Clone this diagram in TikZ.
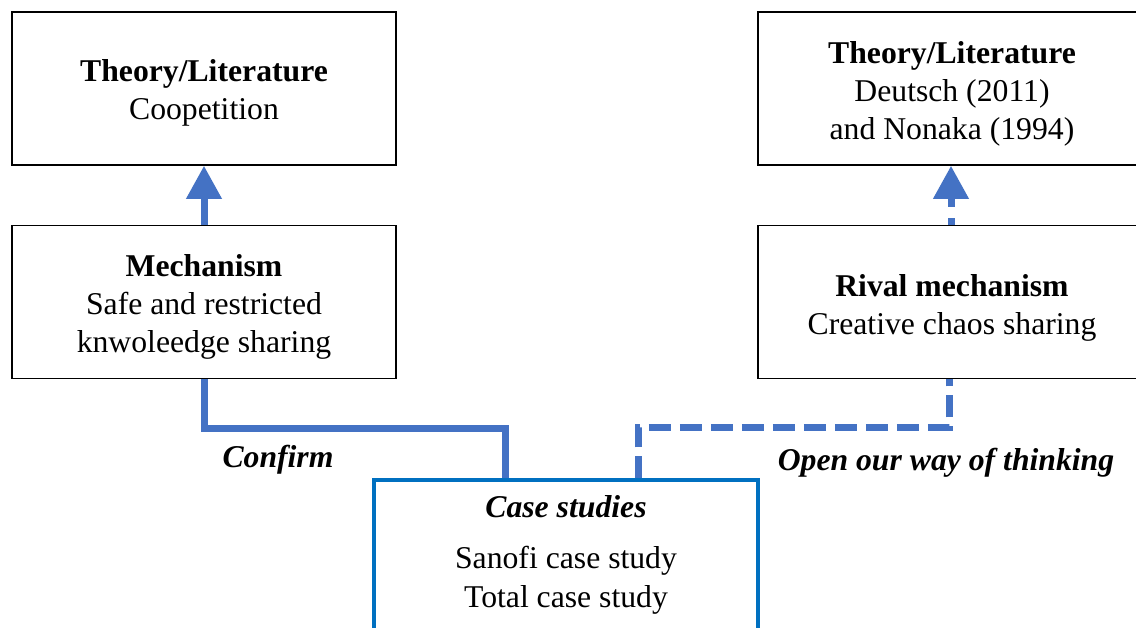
\documentclass[tikz,border=0pt]{standalone}
\usepackage{fontspec}
\setmainfont{Liberation Serif}
\usetikzlibrary{arrows.meta}
\definecolor{conn}{HTML}{4472C4}
\definecolor{casec}{HTML}{0070C0}
\begin{document}
\begin{tikzpicture}[x=1pt,y=-1pt,
  txt/.style={font=\fontsize{31.7}{38}\selectfont, align=center, inner sep=0pt},
  bx/.style={draw=black, line width=1.6pt, inner sep=0pt, minimum height=153pt},
  conline/.style={draw=conn, line width=7pt},
  condash/.style={conline, dash pattern=on 22pt off 9pt},
  bigarrow/.style={-{Triangle[width=34pt,length=33pt]}}
]
\useasboundingbox[fill=white] (0,0) rectangle (1136,627);
% boxes
\node[bx, minimum width=384pt] (theoL) at (204,88.5) {};
\node[bx, minimum width=384pt] (mech) at (204,302) {};
\node[bx, minimum width=388pt] (theoR) at (952,88.5) {};
\node[bx, minimum width=388pt] (rival) at (952,302) {};
\node[draw=casec, line width=3.5pt, minimum width=384pt, minimum height=180pt, inner sep=0pt] (case) at (566,570) {};
% box texts
\node[txt] (theoLt) at ([yshift=-4.5pt]theoL.center) {\textbf{Theory/Literature}\\Coopetition};
\node[txt] (mecht) at ([yshift=-5pt]mech.center) {\textbf{Mechanism}\\Safe and restricted\\knwoleedge sharing};
\node[txt] (theoRt) at ([yshift=-5pt]theoR.center) {\textbf{Theory/Literature}\\Deutsch (2011)\\and Nonaka (1994)};
\node[txt] (rivalt) at ([yshift=-6pt]rival.center) {\textbf{Rival mechanism}\\Creative chaos sharing};
\node[txt, anchor=base] (caseT) at (566,517) {\textbf{\itshape Case studies}};
\node[txt, anchor=base] (caseA) at (566,568) {Sanofi case study};
\node[txt, anchor=base] (caseB) at (566,607) {Total case study};
% labels
\node[txt, anchor=base] (confirm) at (278,467) {\textbf{\itshape Confirm}};
\node[txt, anchor=base] (open) at (946,470) {\textbf{\itshape Open our way of thinking}};
% arrows up
\draw[conline, bigarrow] (mech.north) -- (theoL.south);
\draw[conline, dash pattern=on 7pt off 11pt on 30pt off 0pt, bigarrow] ([xshift=-1pt]rival.north) -- ([xshift=-1pt]theoR.south);
% connectors
\coordinate (lc2) at (505,428);
\draw[conline] (mech.south) |- (lc2) -- (lc2 |- case.north);
\coordinate (rc1) at (638,427);
\coordinate (rc2) at (949,427);
\draw[condash] (rc1 |- case.north) -- (rc1) -- (rc2) -- (rc2 |- rival.south);
\end{tikzpicture}
\end{document}
